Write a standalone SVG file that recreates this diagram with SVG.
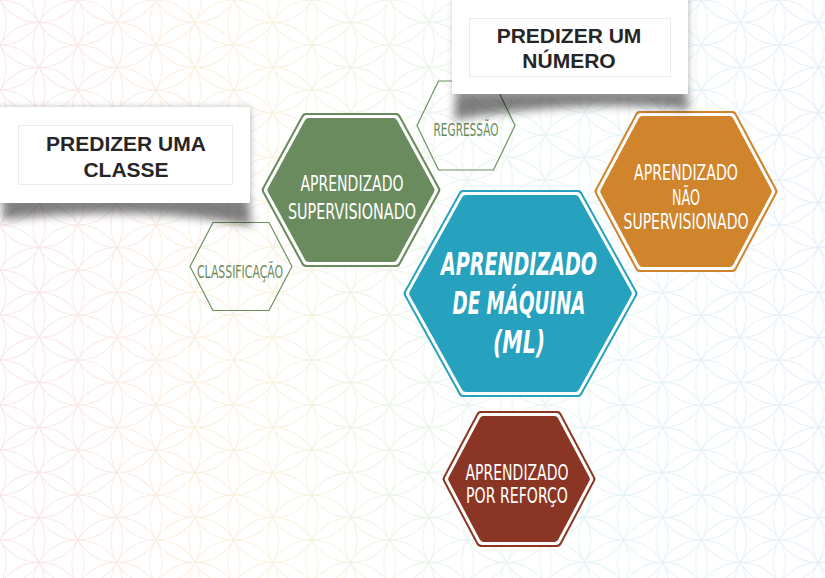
<svg xmlns="http://www.w3.org/2000/svg" width="825" height="578" viewBox="0 0 825 578">
  <style>
    .lbl { font-family: 'DejaVu Sans Condensed', 'DejaVu Sans', sans-serif; font-size: 22px; fill: #ffffff; text-anchor: middle; }
    .main { font-family: 'DejaVu Sans Condensed', 'DejaVu Sans', sans-serif; font-size: 32px; font-weight: bold; font-style: italic; fill: #ffffff; text-anchor: middle; }
    .small { font-family: 'DejaVu Sans Condensed', 'DejaVu Sans', sans-serif; font-size: 17px; fill: #6b8a5c; text-anchor: middle; }
    .call { font-family: 'Liberation Sans', Arial, sans-serif; font-size: 21px; font-weight: bold; fill: #262626; text-anchor: middle; }
    .rj { stroke-linejoin: round; stroke-width: 8; }
    .white { fill: #ffffff; stroke: #ffffff; }
    .blue { fill: #26a2be; stroke: #26a2be; }
    .green { fill: #6a8b5e; stroke: #6a8b5e; }
    .orange { fill: #d0842c; stroke: #d0842c; }
    .red { fill: #8b3624; stroke: #8b3624; }
    .thin { fill: none; stroke: #6f9160; stroke-width: 1.2; stroke-linejoin: round; }
    .box { fill: #ffffff; }
    .inner { fill: none; stroke: #ececec; stroke-width: 1; }
    .curl { fill: #000000; opacity: 0.5; }
  </style>
  <defs>
    <pattern id="fol" patternUnits="userSpaceOnUse" width="77.94" height="45">
      <g fill="none" stroke="#ffffff" stroke-width="1">
        <circle cx="0" cy="-45" r="45"/><circle cx="0" cy="0" r="45"/><circle cx="0" cy="45" r="45"/><circle cx="0" cy="90" r="45"/>
        <circle cx="77.94" cy="-45" r="45"/><circle cx="77.94" cy="0" r="45"/><circle cx="77.94" cy="45" r="45"/><circle cx="77.94" cy="90" r="45"/>
        <circle cx="-38.97" cy="-22.5" r="45"/><circle cx="-38.97" cy="22.5" r="45"/><circle cx="-38.97" cy="67.5" r="45"/>
        <circle cx="38.97" cy="-22.5" r="45"/><circle cx="38.97" cy="22.5" r="45"/><circle cx="38.97" cy="67.5" r="45"/>
        <circle cx="116.91" cy="-22.5" r="45"/><circle cx="116.91" cy="22.5" r="45"/><circle cx="116.91" cy="67.5" r="45"/>
      </g>
    </pattern>
    <mask id="folMask">
      <rect x="0" y="0" width="825" height="578" fill="url(#fol)"/>
    </mask>
    <linearGradient id="bgGrad" x1="0" y1="0" x2="1" y2="0">
      <stop offset="0" stop-color="#f2c2d2"/>
      <stop offset="0.3" stop-color="#f2dfae"/>
      <stop offset="0.5" stop-color="#cfe6c6"/>
      <stop offset="0.75" stop-color="#bfe4ec"/>
      <stop offset="1" stop-color="#c6d6ef"/>
    </linearGradient>
    <filter id="blur" x="-20%" y="-50%" width="140%" height="200%">
      <feGaussianBlur stdDeviation="5"/>
    </filter>
    <filter id="soft" x="-10%" y="-20%" width="120%" height="140%">
      <feDropShadow dx="1" dy="0" stdDeviation="3" flood-color="#000000" flood-opacity="0.25"/>
    </filter>
  </defs>

  <rect x="0" y="0" width="825" height="578" fill="#ffffff"/>
  <rect x="0" y="0" width="825" height="578" fill="url(#bgGrad)" mask="url(#folMask)" opacity="0.4"/>

  <g id="regressao">
    <polygon class="thin" points="417,125.5 438.5,81 493.5,81 515,125.5 493.5,170 438.5,170"/>
    <text class="small" x="466" y="136" textLength="65" lengthAdjust="spacingAndGlyphs">REGRESSÃO</text>
  </g>

  <g id="classificacao">
    <polygon class="thin" points="190,266.5 213,222.5 269,222.5 292,266.5 269,310.5 213,310.5"/>
    <text class="small" x="240" y="278" textLength="86" lengthAdjust="spacingAndGlyphs">CLASSIFICAÇÃO</text>
  </g>

  <g id="supervisionado">
    <polygon class="green rj" points="265.68,190 305.5,117 396.5,117 436.32,190 396.5,263 305.5,263"/>
    <polygon class="white rj" points="268.01,190 306.74,119 395.26,119 433.99,190 395.26,261 306.74,261"/>
    <polygon class="green rj" points="271.52,190 308.61,122 393.39,122 430.48,190 393.39,258 308.61,258"/>
    <text class="lbl" x="352" y="191" textLength="103" lengthAdjust="spacingAndGlyphs">APRENDIZADO</text>
    <text class="lbl" x="352" y="219" textLength="128" lengthAdjust="spacingAndGlyphs">SUPERVISIONADO</text>
  </g>

  <g id="nao-supervisionado">
    <polygon class="orange rj" points="598.57,191.5 639.43,115 732.57,115 773.43,191.5 732.57,268 639.43,268"/>
    <polygon class="white rj" points="600.86,191.5 640.65,117 731.35,117 771.14,191.5 731.35,266 640.65,266"/>
    <polygon class="orange rj" points="604.29,191.5 642.48,120 729.52,120 767.71,191.5 729.52,263 642.48,263"/>
    <text class="lbl" x="686" y="180" textLength="104" lengthAdjust="spacingAndGlyphs">APRENDIZADO</text>
    <text class="lbl" x="686" y="204.5" textLength="28" lengthAdjust="spacingAndGlyphs">NÃO</text>
    <text class="lbl" x="686" y="229" textLength="125" lengthAdjust="spacingAndGlyphs">SUPERVISIONADO</text>
  </g>

  <g id="reforco">
    <polygon class="red rj" points="446.53,479 480.41,415 557.59,415 591.47,479 557.59,543 480.41,543"/>
    <polygon class="white rj" points="448.79,479 481.62,417 556.38,417 589.21,479 556.38,541 481.62,541"/>
    <polygon class="red rj" points="452.19,479 483.43,420 554.57,420 585.81,479 554.57,538 483.43,538"/>
    <text class="lbl" x="517" y="480" textLength="103" lengthAdjust="spacingAndGlyphs">APRENDIZADO</text>
    <text class="lbl" x="517" y="503" textLength="102" lengthAdjust="spacingAndGlyphs">POR REFORÇO</text>
  </g>

  <g id="ml">
    <polygon class="blue rj" points="407.54,293.5 462.82,193.99 578.18,193.99 633.46,293.5 578.18,393.01 462.82,393.01"/>
    <polygon class="white rj" points="409.81,293.5 463.98,196 577.02,196 631.19,293.5 577.02,391 463.98,391"/>
    <polygon class="blue rj" points="413.22,293.5 465.72,199 575.28,199 627.78,293.5 575.28,388 465.72,388"/>
    <text class="main" x="519" y="275" textLength="156" lengthAdjust="spacingAndGlyphs">APRENDIZADO</text>
    <text class="main" x="519" y="314" textLength="133" lengthAdjust="spacingAndGlyphs">DE MÁQUINA</text>
    <text class="main" x="519" y="353" textLength="52" lengthAdjust="spacingAndGlyphs">(ML)</text>
  </g>

  <g id="predizer-classe">
    <path class="curl" filter="url(#blur)" d="M4,199 L248,199 L252,226 Q140,204 2,220 Z"/>
    <rect class="box" filter="url(#soft)" x="-6" y="107" width="256" height="96"/>
    <rect class="inner" x="18.5" y="125.5" width="214" height="59"/>
    <text class="call" x="126" y="151">PREDIZER UMA</text>
    <text class="call" x="126" y="177">CLASSE</text>
  </g>

  <g id="predizer-numero">
    <path class="curl" filter="url(#blur)" d="M456,92 L686,92 L690,110 Q590,98 454,120 Z"/>
    <rect class="box" filter="url(#soft)" x="452" y="-6" width="236" height="100"/>
    <rect class="inner" x="469.5" y="18.5" width="201" height="58"/>
    <text class="call" x="569" y="43">PREDIZER UM</text>
    <text class="call" x="569" y="68">NÚMERO</text>
  </g>

  <g id="connectors"></g>
</svg>
